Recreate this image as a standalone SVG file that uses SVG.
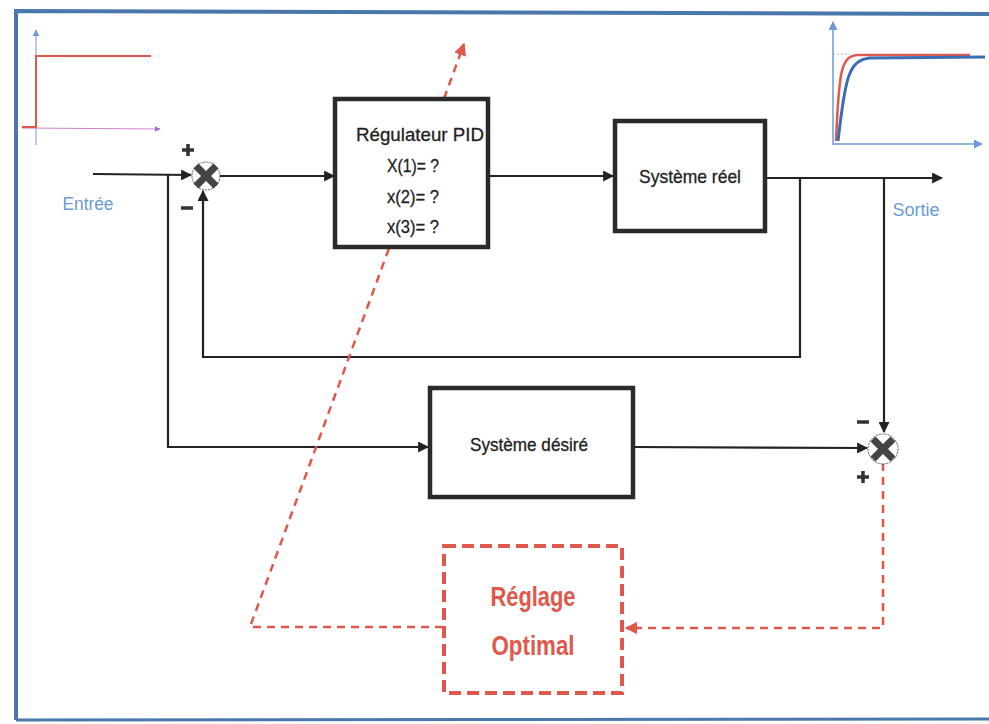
<svg xmlns="http://www.w3.org/2000/svg" width="989" height="724" viewBox="0 0 989 724">
<defs>
<style>
.ln{fill:none;stroke:#222;stroke-width:2.2}
.box{fill:#fff;stroke:#2a2a2a;stroke-width:4.5}
.txt{font-family:"Liberation Sans",Arial,sans-serif;font-size:19px;fill:#222;text-anchor:middle;stroke:#222;stroke-width:0.3}
.lbl{font-family:"Liberation Sans",Arial,sans-serif;font-size:18px;fill:#6b9bd2;text-anchor:middle}
.red{fill:none;stroke:#e0584c;stroke-width:2.5;stroke-dasharray:8 6}
.sum{fill:#fff;stroke:#555;stroke-width:1;stroke-dasharray:2 1}
.x{stroke:#444;stroke-width:7;stroke-linecap:butt}
.sign{stroke:#333;stroke-width:3.5}
.rt{font-family:"Liberation Sans",Arial,sans-serif;font-size:28px;font-weight:bold;fill:#e0584c;text-anchor:middle}
</style>
<marker id="ah" viewBox="0 0 10 10" refX="9" refY="5" markerWidth="5" markerHeight="5" orient="auto"><path d="M0,0 L10,5 L0,10 z" fill="#222"/></marker>
<marker id="ahr" viewBox="0 0 10 10" refX="9" refY="5" markerWidth="5" markerHeight="5" orient="auto"><path d="M0,0 L10,5 L0,10 z" fill="#e0584c"/></marker>
<marker id="ahb" viewBox="0 0 10 10" refX="9" refY="5" markerWidth="6" markerHeight="6" orient="auto"><path d="M0,0 L10,5 L0,10 z" fill="#6b9bd2"/></marker>
<marker id="ahp" viewBox="0 0 10 10" refX="9" refY="5" markerWidth="5" markerHeight="5" orient="auto"><path d="M0,0 L10,5 L0,10 z" fill="#a070c0"/></marker>
</defs>
<rect width="989" height="724" fill="#fff"/>
<!-- frame -->
<path d="M16,720 L16,11 L989,14" fill="none" stroke="#4a78ad" stroke-width="4"/>
<path d="M16,720 L989,719" fill="none" stroke="#4a78ad" stroke-width="3"/>

<!-- input step graph -->
<g id="input-graph">
<line x1="36" y1="145" x2="36" y2="30" stroke="#8aa8d8" stroke-width="1.2" marker-end="url(#ahb)"/>
<line x1="22" y1="128" x2="160" y2="129" stroke="#d080d0" stroke-width="1.2" marker-end="url(#ahp)"/>
<path d="M22,127 L36,127 L36,56 L151,56" fill="none" stroke="#e0584c" stroke-width="2"/>
</g>

<!-- output graph -->
<g id="output-graph">
<line x1="833" y1="145" x2="833" y2="22" stroke="#6b9bd2" stroke-width="1.5" marker-end="url(#ahb)"/>
<line x1="833" y1="144" x2="982" y2="144" stroke="#6b9bd2" stroke-width="1.5" marker-end="url(#ahb)"/>
<line x1="833" y1="54" x2="850" y2="54" stroke="#9ab" stroke-width="1" stroke-dasharray="2 2"/>
<path d="M836,141 C839,70 841,56 858,55 L970,55" fill="none" stroke="#e0584c" stroke-width="2.5"/>
<path d="M838,141 C845,80 848,60 870,58 L985,57" fill="none" stroke="#3a6db5" stroke-width="3"/>
</g>

<g id="connectors">
<line class="ln" x1="93" y1="174" x2="191" y2="175" marker-end="url(#ah)"/>
<path class="ln" d="M168,174 L168,447 L428,447" marker-end="url(#ah)"/>
<line class="ln" x1="219" y1="176" x2="334" y2="176" marker-end="url(#ah)"/>
<line class="ln" x1="488" y1="176" x2="613" y2="176" marker-end="url(#ah)"/>
<line class="ln" x1="765" y1="178" x2="942" y2="178" marker-end="url(#ah)"/>
<path class="ln" d="M800,178 L800,357 L203,357 L203,191" marker-end="url(#ah)"/>
<line class="ln" x1="884" y1="178" x2="884" y2="432" marker-end="url(#ah)"/>
<line class="ln" x1="633" y1="447" x2="867" y2="448" marker-end="url(#ah)"/>
<path class="red" d="M883,463 L883,628 L626,628" marker-end="url(#ahr)"/>
<path class="red" d="M443,627 L250,627 L464,44" marker-end="url(#ahr)"/>
</g>

<g id="sum1">
<circle class="sum" cx="206" cy="176" r="14"/>
<line class="x" x1="196" y1="166" x2="216" y2="186"/>
<line class="x" x1="216" y1="166" x2="196" y2="186"/>
<path class="sign" d="M182,150 L194,150 M188,144 L188,156"/>
<line class="sign" x1="181" y1="208" x2="193" y2="208"/>
</g>

<g id="sum2">
<circle class="sum" cx="883" cy="449" r="15"/>
<line class="x" x1="873" y1="439" x2="893" y2="459"/>
<line class="x" x1="893" y1="439" x2="873" y2="459"/>
<line class="sign" x1="857" y1="422" x2="869" y2="422"/>
<path class="sign" d="M857,477 L869,477 M863,471 L863,483"/>
</g>

<g id="pid">
<rect class="box" x="335" y="99" width="153" height="148"/>
<text class="txt" x="420" y="141" textLength="128" lengthAdjust="spacingAndGlyphs">Régulateur PID</text>
<text class="txt" x="413" y="172" textLength="52" lengthAdjust="spacingAndGlyphs">X(1)= ?</text>
<text class="txt" x="413" y="203" textLength="52" lengthAdjust="spacingAndGlyphs">x(2)= ?</text>
<text class="txt" x="413" y="233" textLength="52" lengthAdjust="spacingAndGlyphs">x(3)= ?</text>
</g>

<g id="systeme-reel">
<rect class="box" x="615" y="121" width="150" height="110"/>
<text class="txt" x="690" y="183" textLength="102" lengthAdjust="spacingAndGlyphs">Système réel</text>
</g>

<g id="systeme-desire">
<rect class="box" x="430" y="388" width="203" height="109"/>
<text class="txt" x="529" y="451" textLength="118" lengthAdjust="spacingAndGlyphs">Système désiré</text>
</g>

<g id="reglage">
<rect x="444" y="546" width="178" height="147" fill="#fff" stroke="#e0584c" stroke-width="4" stroke-dasharray="12 6"/>
<text class="rt" x="533" y="606" textLength="85" lengthAdjust="spacingAndGlyphs">Réglage</text>
<text class="rt" x="533" y="655" textLength="83" lengthAdjust="spacingAndGlyphs">Optimal</text>
</g>

<g id="labels">
<text class="lbl" x="88" y="210" textLength="51" lengthAdjust="spacingAndGlyphs">Entrée</text>
<text class="lbl" x="916" y="216" textLength="47" lengthAdjust="spacingAndGlyphs">Sortie</text>
</g>
</svg>
